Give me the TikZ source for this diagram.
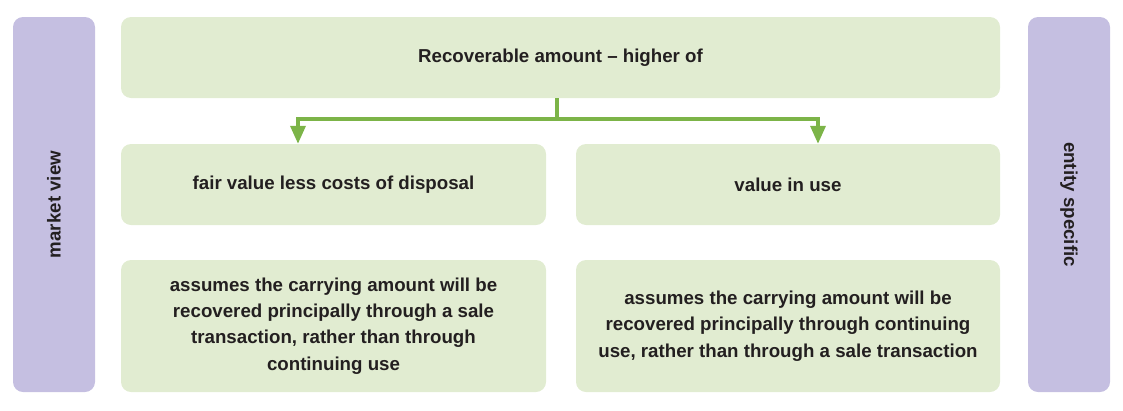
\documentclass[tikz,border=0pt]{standalone}
\usepackage{fontspec}
\setmainfont{Liberation Sans}
\usepackage{tikz}
\usetikzlibrary{arrows.meta}
\definecolor{boxgreen}{RGB}{225,236,209}
\definecolor{barpurple}{RGB}{197,191,225}
\definecolor{linegreen}{RGB}{124,180,72}
\definecolor{inkdark}{RGB}{35,31,32}
\begin{document}
\begin{tikzpicture}[x=1pt, y=-1pt,
    every node/.style={font=\bfseries\fontsize{18.7}{26.3}\selectfont, text=inkdark},
    greenbox/.style={fill=boxgreen, rounded corners=10pt, inner sep=0pt, align=center},
    sidebar/.style={fill=barpurple, rounded corners=10pt, inner sep=0pt, minimum width=82pt, minimum height=375pt},
    conn/.style={draw=linegreen, line width=3.5pt},
    tip/.style={-{Triangle[width=15pt,length=18pt]}}]
    \useasboundingbox (0,0) rectangle (1123,410);
    % side bars
    \node[sidebar] (market) at (54,204.5) {};
    \node[rotate=90] at (market.center) {market view};
    \node[sidebar] (entity) at (1069,204.5) {};
    \node[rotate=-90] at (entity.center) {entity specific};
    % boxes
    \node[greenbox, minimum width=879pt, minimum height=81pt] (recov) at (560.5,57.5) {Recoverable amount -- higher of};
    \node[greenbox, minimum width=425pt, minimum height=81pt] (fvlcd) at (333.5,184.5) {fair value less costs of disposal};
    \node[greenbox, minimum width=424pt, minimum height=81pt] (viu) at (788,184.5) {value in use};
    \node[greenbox, minimum width=425pt, minimum height=132pt] (fvtext) at (333.5,326) {assumes the carrying amount will be\\recovered principally through a sale\\transaction, rather than through\\continuing use};
    \node[greenbox, minimum width=424pt, minimum height=132pt] (viutext) at (788,326) {assumes the carrying amount will be\\recovered principally through continuing\\use, rather than through a sale transaction};
    % connectors
    \coordinate (split) at (557,119);
    \coordinate (left) at (298,119);
    \coordinate (right) at (818,119);
    \draw[conn] (recov.south -| split) -- (split);
    \draw[conn, tip] (split) -| (fvlcd.north -| left);
    \draw[conn, tip] (split) -| (viu.north -| right);
\end{tikzpicture}
\end{document}
